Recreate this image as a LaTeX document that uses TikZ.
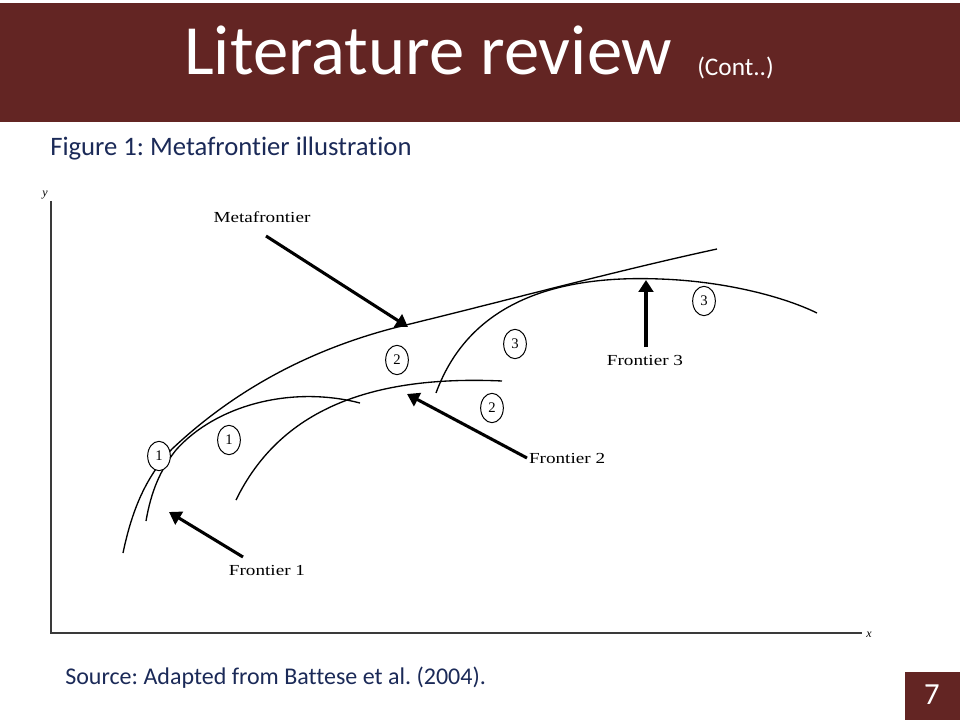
\documentclass[tikz,border=0pt]{standalone}
\usepackage{fontspec}
\setmainfont{Liberation Serif}[Ligatures=NoCommon]
\newfontfamily\slidefont{Carlito}[Ligatures=NoCommon]
\usetikzlibrary{arrows.meta,shapes.geometric}
\definecolor{maroon}{HTML}{632523}
\definecolor{navytext}{HTML}{1B2A58}
\definecolor{axisgray}{HTML}{3A3A3A}
\frenchspacing
\tikzset{
  curve/.style={line width=1pt,black},
  bigarrow/.style={line width=2.3pt,-{Triangle[length=9pt,width=11pt]}},
  lbl/.style={font=\fontsize{11.5}{11.5}\selectfont,xscale=1.25,inner sep=1pt},
  num/.style={draw,ellipse,line width=0.75pt,fill=white,minimum width=17pt,minimum height=22pt,inner sep=0pt,font=\fontsize{11}{11}\selectfont},
  axis/.style={line width=1.4pt,axisgray}
}
\begin{document}
\begin{tikzpicture}[x=0.75pt,y=-0.75pt]
\useasboundingbox (0,0) rectangle (960,720);
\fill[white] (0,0) rectangle (960,720);
% title bar
\fill[maroon] (0,3) rectangle (960,122);
\node[anchor=base west,text=white,inner sep=0pt,font=\slidefont\fontsize{53}{53}\selectfont] (title) at (184,75) {Literature review};
\node[anchor=base west,text=white,inner sep=0pt,font=\slidefont\fontsize{19}{19}\selectfont] (cont) at (697,76) {(Cont..)};
% caption
\node[anchor=base west,text=navytext,inner sep=0pt,font=\slidefont\fontsize{20}{20}\selectfont] (cap) at (50,156) {Figure 1: Metafrontier illustration};
\node[anchor=base west,text=navytext,inner sep=0pt,font=\slidefont\fontsize{18}{18}\selectfont] (src) at (65,684) {Source: Adapted from Battese et al. (2004).};
% page number
\fill[maroon] (905,672) rectangle (960,720);
\node[text=white,inner sep=0pt,font=\slidefont\fontsize{23}{23}\selectfont] (pg) at (932,695) {7};
% axes
\coordinate (ytop) at (51,201);
\coordinate (orig) at (51,633);
\coordinate (xend) at (862,633);
\draw[axis] (ytop) -- (orig) -- (xend);
\node[font=\itshape\fontsize{9}{9}\selectfont,inner sep=0pt] (ylab) at (45,195) {y};
\node[font=\itshape\fontsize{9}{9}\selectfont,inner sep=0pt] (xlab) at (869,635) {x};
% curves
\draw[curve] (123,553) .. controls (133,505) and (148,475) .. (172,449) .. controls (240,385) and (320,345) .. (410,324) .. controls (520,297) and (620,270) .. (717,249);
\draw[curve] (146,521) .. controls (151,492) and (160,470) .. (176,450) .. controls (215,406) and (290,385) .. (360,403);
\draw[curve] (236,500) .. controls (280,410) and (370,375) .. (502,381);
\draw[curve] (436,393) .. controls (470,300) and (560,275) .. (660,279) .. controls (720,281) and (780,295) .. (817,313);
% circled numbers
\node[num] (c1a) at (159,456) {1};
\node[num] (c1b) at (229,440) {1};
\node[num] (c2a) at (397,360) {2};
\node[num] (c2b) at (492,408) {2};
\node[num] (c3a) at (515,344) {3};
\node[num] (c3b) at (704,301) {3};
% labels
\node[lbl] (meta) at (262,217) {Metafrontier};
\node[lbl] (f3) at (645,360) {Frontier 3};
\node[lbl,anchor=west] (f2) at (527,458) {Frontier 2};
\node[lbl] (f1) at (267,570) {Frontier 1};
% arrows
\coordinate (metaS) at (266,236);
\coordinate (metaT) at (408,327);
\coordinate (f3S) at (646,347);
\coordinate (f3T) at (646,280);
\coordinate (f2T) at (407,394);
\coordinate (f1S) at (243,557);
\coordinate (f1T) at (169,512);
\draw[bigarrow] (metaS) -- (metaT);
\draw[bigarrow] (f3S) -- (f3T);
\draw[bigarrow] (f2.west) -- (f2T);
\draw[bigarrow] (f1S) -- (f1T);
\end{tikzpicture}
\end{document}
